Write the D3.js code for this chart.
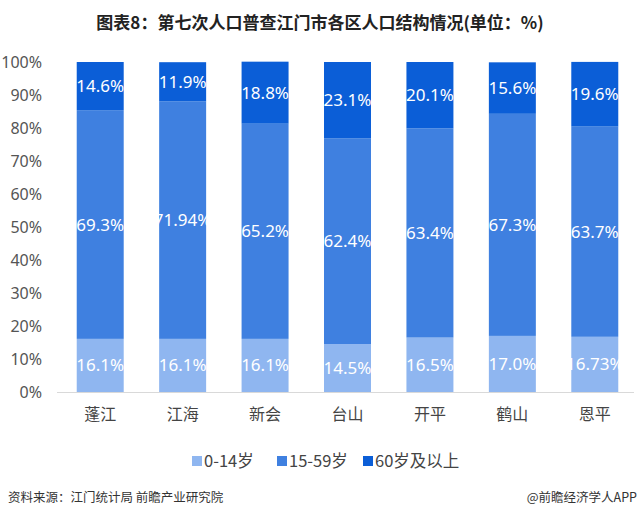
<!DOCTYPE html>
<html><head><meta charset="utf-8">
<script src="https://cdn.jsdelivr.net/npm/d3@7"></script>
<style>body{margin:0;background:#fff;}</style>
</head><body>
<svg id="c" width="640" height="520"></svg>
<script>
const categories = ["蓬江","江海","新会","台山","开平","鹤山","恩平"];
const seriesNames = ["0-14岁","15-59岁","60岁及以上"];
const age0_14 = [16.1,16.1,16.1,14.5,16.5,17.0,16.73];
const age15_59 = [69.3,71.94,65.2,62.4,63.4,67.3,63.7];
const age60 = [14.6,11.9,18.8,23.1,20.1,15.6,19.6];
const labels0_14 = ["16.1%","16.1%","16.1%","14.5%","16.5%","17.0%","16.73%"];
const labels15_59 = ["69.3%","71.94%","65.2%","62.4%","63.4%","67.3%","63.7%"];
const labels60 = ["14.6%","11.9%","18.8%","23.1%","20.1%","15.6%","19.6%"];
const yTicks = [0,10,20,30,40,50,60,70,80,90,100];
const colors = ["#8fb6f0","#3f80e0","#0b5ed7"];

const svg = d3.select("#c");
const font = "'Noto Sans CJK SC','Noto Sans',sans-serif";
const x = d3.scaleBand().domain(categories).range([59,636]).paddingInner(0.43).paddingOuter(0.215);
const y = d3.scaleLinear().domain([0,100]).range([392,62]);

svg.append("text").attr("x",320).attr("y",29).attr("text-anchor","middle")
  .attr("font-family",font).attr("font-weight","bold").attr("font-size",17).attr("fill","#222")
  .text("图表8：第七次人口普查江门市各区人口结构情况(单位：%)");

const data = categories.map((c,i)=>({cat:c, s0:age0_14[i], s1:age15_59[i], s2:age60[i]}));
const stack = d3.stack().keys(["s0","s1","s2"])(data);
const lbls = [labels0_14, labels15_59, labels60];

stack.forEach((layer,k)=>{
  const g = svg.append("g");
  g.selectAll("rect").data(layer).enter().append("rect")
    .attr("x",d=>x(d.data.cat)).attr("width",x.bandwidth())
    .attr("y",d=>y(d[1])).attr("height",d=>y(d[0])-y(d[1]))
    .attr("fill",colors[k]);
  g.selectAll("text").data(layer).enter().append("text")
    .attr("x",d=>x(d.data.cat)+x.bandwidth()/2)
    .attr("y",d=>(y(d[0])+y(d[1]))/2+6)
    .attr("text-anchor","middle").attr("fill","#fff")
    .attr("font-family","'Noto Sans',sans-serif").attr("font-size",17)
    .text((d,i)=>lbls[k][i]);
});

const ya = d3.axisLeft(y).tickValues(yTicks).tickFormat(d=>d+"%").tickSize(0).tickPadding(0);
const yg = svg.append("g").attr("transform","translate(42,0)").call(ya);
yg.select(".domain").remove();
yg.selectAll("text").attr("font-family","'Noto Sans',sans-serif").attr("font-size",16).attr("fill","#555");

svg.append("line").attr("x1",57).attr("x2",634).attr("y1",392.5).attr("y2",392.5).attr("stroke","#d9d9d9");

const xa = d3.axisBottom(x).tickSize(0).tickPadding(0);
const xg = svg.append("g").attr("transform","translate(0,420)").call(xa);
xg.select(".domain").remove();
xg.selectAll("text").attr("dy",0).attr("font-family",font).attr("font-size",16).attr("fill","#444");

const legend = svg.append("g");
const lx = [192,277,363];
seriesNames.forEach((n,i)=>{
  legend.append("rect").attr("x",lx[i]).attr("y",456).attr("width",10).attr("height",10).attr("fill",colors[i]);
  legend.append("text").attr("x",lx[i]+12).attr("y",467).attr("font-family",font).attr("font-size",16.5).attr("fill","#444").text(n);
});

svg.append("text").attr("x",8).attr("y",502).attr("font-family",font).attr("font-size",12.5).attr("fill","#333")
  .text("资料来源：江门统计局 前瞻产业研究院");
svg.append("text").attr("x",637).attr("y",502).attr("text-anchor","end").attr("font-family",font).attr("font-size",12.5).attr("fill","#333")
  .text("@前瞻经济学人APP");
</script>
</body></html>
